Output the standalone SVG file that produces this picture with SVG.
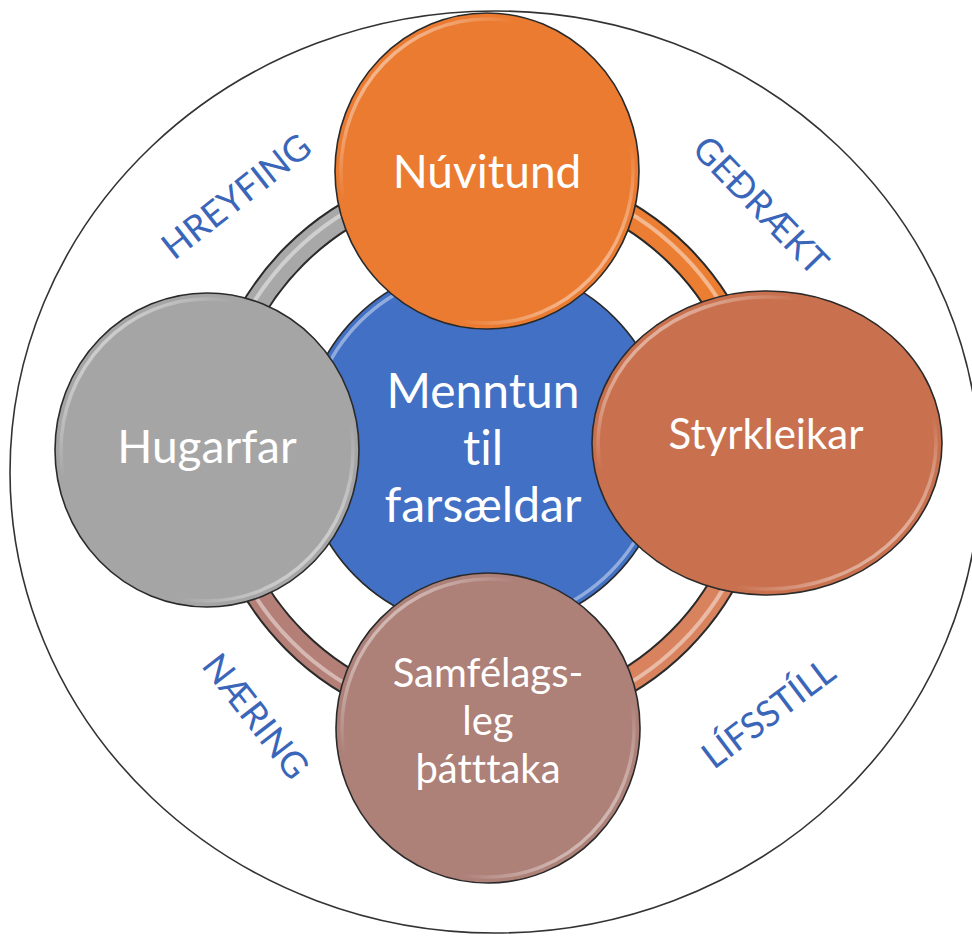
<svg xmlns="http://www.w3.org/2000/svg" width="972" height="937" viewBox="0 0 972 937">
  <defs>
    <linearGradient id="gloss" x1="0" y1="0" x2="1" y2="1">
      <stop offset="0" stop-color="#fff" stop-opacity="0.85"/>
      <stop offset="0.3" stop-color="#fff" stop-opacity="0"/>
      <stop offset="0.7" stop-color="#fff" stop-opacity="0"/>
      <stop offset="1" stop-color="#fff" stop-opacity="0.85"/>
    </linearGradient>
    <style>
      .node { stroke: #2a2a2a; stroke-width: 1.6; }
      .gl { fill: none; stroke: url(#gloss); stroke-width: 3.5; }
      .lbl { font-family: Lato, "Open Sans", "Liberation Sans", sans-serif; fill: #ffffff; text-anchor: middle; font-variant-ligatures: none; }
      .side { font-family: Lato, "Open Sans", "Liberation Sans", sans-serif; fill: #3A66BA; font-size: 36px; text-anchor: middle; font-variant-ligatures: none; }
      .ringbase { fill: none; stroke: #2a2a2a; stroke-width: 27; }
      .arc { fill: none; stroke-width: 23; }
      .hl { fill: none; stroke: #ffffff; stroke-opacity: 0.45; stroke-width: 4; }
    </style>
  </defs>
  <rect width="972" height="937" fill="#ffffff"/>

  <g id="frame">
    <ellipse cx="495" cy="472" rx="485" ry="461" fill="#ffffff" stroke="#333333" stroke-width="1.6"/>
  </g>

  <g id="connectors">
    <circle class="ringbase" cx="487" cy="448" r="272"/>
    <path class="arc" stroke="#A8A8A8" d="M 215 448 A 272 272 0 0 1 487 176"/>
    <path class="arc" stroke="#EC7E33" d="M 487 176 A 272 272 0 0 1 759 448"/>
    <path class="arc" stroke="#D8835E" d="M 759 448 A 272 272 0 0 1 487 720"/>
    <path class="arc" stroke="#B47F76" d="M 487 720 A 272 272 0 0 1 215 448"/>
    <circle class="hl" cx="487" cy="448" r="275"/>
  </g>

  <g id="center">
    <circle class="node" cx="485" cy="447" r="183" fill="#4170C4"/>
    <circle class="gl" cx="485" cy="447" r="177"/>
    <text class="lbl" font-size="48"><tspan x="483" y="408">Menntun</tspan><tspan x="483" y="465">til</tspan><tspan x="483" y="522">farsældar</tspan></text>
  </g>

  <g id="hugarfar">
    <ellipse class="node" cx="207" cy="450" rx="152" ry="157" fill="#A5A5A5"/>
    <ellipse class="gl" cx="207" cy="450" rx="146" ry="151"/>
    <text class="lbl" x="207" y="463" font-size="46">Hugarfar</text>
  </g>

  <g id="samfelagsleg">
    <ellipse class="node" cx="488" cy="728" rx="152" ry="155" fill="#AD8078"/>
    <ellipse class="gl" cx="488" cy="728" rx="146" ry="149"/>
    <text class="lbl" font-size="40"><tspan x="488" y="687">Samfélags-</tspan><tspan x="488" y="735">leg</tspan><tspan x="488" y="783">þátttaka</tspan></text>
  </g>

  <g id="styrkleikar">
    <ellipse class="node" cx="767" cy="443" rx="175" ry="152" fill="#C9714F"/>
    <ellipse class="gl" cx="767" cy="443" rx="169" ry="146"/>
    <text class="lbl" x="766" y="449" font-size="42">Styrkleikar</text>
  </g>

  <g id="nuvitund">
    <ellipse class="node" cx="487" cy="171" rx="152" ry="158" fill="#EB7B31"/>
    <ellipse class="gl" cx="487" cy="171" rx="146" ry="152"/>
    <text class="lbl" x="487" y="188" font-size="46">Núvitund</text>
  </g>

  <g id="side-labels">
    <text class="side" transform="translate(236,196) rotate(-38)" y="13">HREYFING</text>
    <text class="side" transform="translate(761,205) rotate(46)" y="13">GEÐRÆKT</text>
    <text class="side" transform="translate(256,716) rotate(52)" y="13">NÆRING</text>
    <text class="side" transform="translate(768,713) rotate(-37)" y="13">LÍFSSTÍLL</text>
  </g>
</svg>
